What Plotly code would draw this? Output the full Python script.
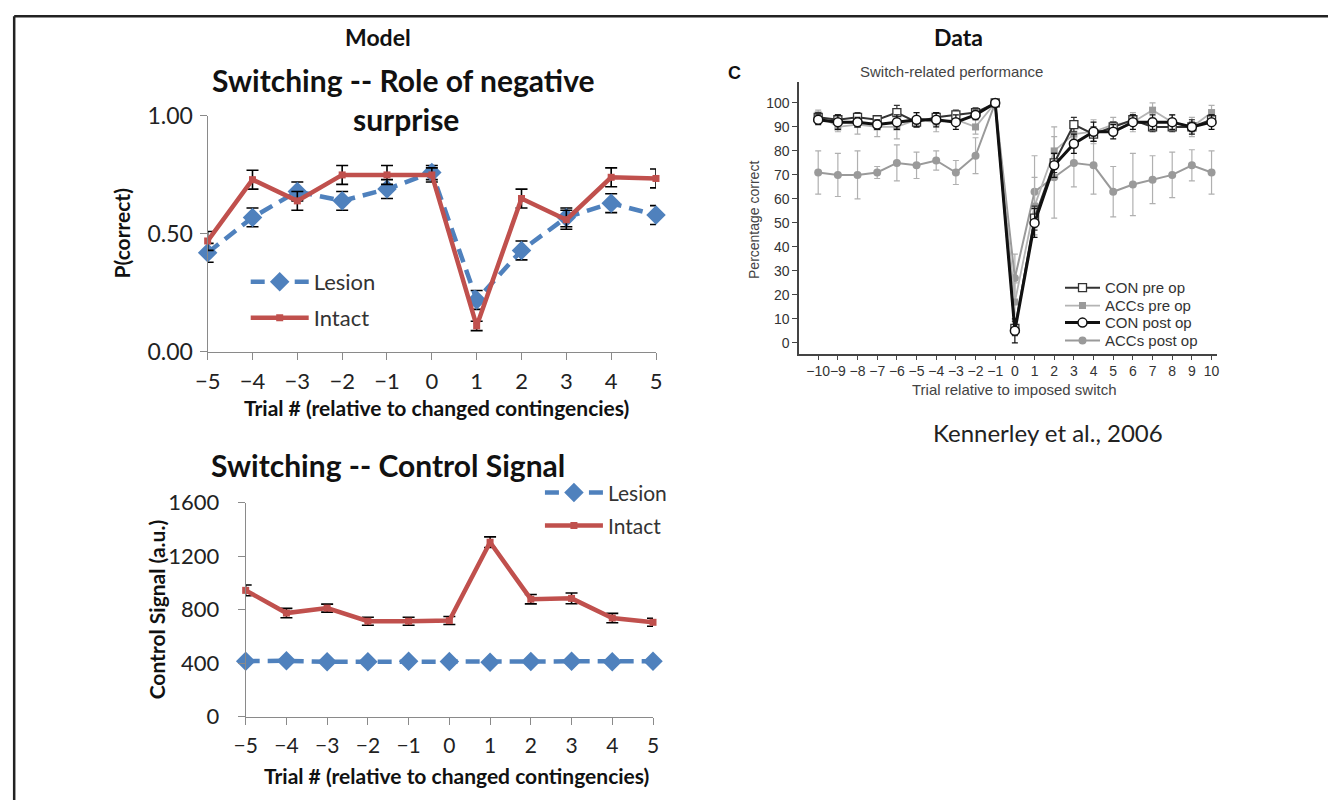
import plotly.graph_objects as go

# The photographed page comes out slightly scaled and offset; positions below are given in
# reference-image pixels and converted back to figure pixels by this fixed mapping.
SX, BX = 0.985, 12.5
SY, BY = 0.966, 15.0
W, H = 1336, 813

# ---------------- data ----------------
trials_model = [-5, -4, -3, -2, -1, 0, 1, 2, 3, 4, 5]
model_tick_text = ["\u22125", "\u22124", "\u22123", "\u22122", "\u22121", "0", "1", "2", "3", "4", "5"]

pc_lesion = [0.42, 0.57, 0.68, 0.64, 0.69, 0.76, 0.22, 0.43, 0.57, 0.63, 0.58]
pc_lesion_err = [0.04, 0.04, 0.04, 0.04, 0.04, 0.03, 0.04, 0.04, 0.04, 0.04, 0.04]
pc_intact = [0.47, 0.73, 0.64, 0.75, 0.75, 0.75, 0.11, 0.65, 0.56, 0.74, 0.735]
pc_intact_err = [0.04, 0.04, 0.04, 0.04, 0.04, 0.03, 0.02, 0.04, 0.04, 0.04, 0.04]

cs_lesion = [415, 418, 410, 410, 415, 412, 408, 412, 415, 410, 415]
cs_lesion_err = [12, 12, 12, 12, 12, 12, 12, 12, 12, 12, 12]
cs_intact = [945, 775, 812, 714, 714, 719, 1305, 879, 885, 738, 706]
cs_intact_err = [40, 35, 30, 30, 30, 30, 40, 35, 40, 35, 30]

trials_data = list(range(-10, 11))
data_tick_text = ["\u221210", "\u22129", "\u22128", "\u22127", "\u22126", "\u22125", "\u22124",
                  "\u22123", "\u22122", "\u22121", "0", "1", "2", "3", "4", "5", "6", "7",
                  "8", "9", "10"]
con_pre = [94, 93, 94, 93, 96, 92, 94, 95, 96, 100, 6, 52, 75, 91, 87, 90, 93, 90, 90, 90, 93]
con_pre_err = [2, 2, 2, 1.5, 3, 2, 2, 2, 2, 0, 3, 5, 4, 3, 3, 2, 2, 2, 2, 2, 2]
accs_pre = [95, 90, 91, 90, 90, 93, 92, 93, 90, 100, 17, 57, 80, 87, 88, 91, 92, 97, 92, 90, 96]
accs_pre_err = [2, 2, 4, 4, 5, 3, 4, 2, 3, 0, 8, 12, 10, 5, 5, 3, 4, 3, 3, 4, 3]
con_post = [93, 92, 92, 91, 92, 93, 93, 92, 95, 100, 5, 50, 74, 83, 88, 88, 92, 92, 92, 90, 92]
con_post_err = [2, 3, 2, 2, 3, 3, 3, 3, 2, 0, 5, 6, 5, 4, 4, 3, 3, 3, 3, 3, 3]
accs_post = [71, 70, 70, 71, 75, 74, 76, 71, 78, 100, 27, 63, 69, 75, 74, 63, 66, 68, 70, 74, 71]
accs_post_err = [9, 9, 10, 2.5, 7.5, 5.5, 4, 5, 7.5, 0, 10, 15, 17, 10, 12, 10.5, 13, 10, 9.5, 6.5, 9]

BLUE = "#4F81BD"
RED = "#C0504D"
EXCEL_FONT = "Lato"
ARIAL = "Liberation Sans"


def fx(x):
    return (x - BX) / SX


def fy(y):
    return (y - BY) / SY


def px(x):
    return fx(x) / W


def py(y):
    return 1 - fy(y) / H


fig = go.Figure()


def legend_box(x_text, y_mid, itemwidth, size, family):
    return dict(x=(fx(x_text) - itemwidth - 10) / W, y=py(y_mid), xanchor="left", yanchor="middle",
                font=dict(family=family, size=size, color="#333"), itemwidth=itemwidth,
                bgcolor="rgba(0,0,0,0)", borderwidth=0)


# ---------- top-left: P(correct) ----------
fig.add_trace(go.Scatter(
    x=trials_model, y=pc_lesion, name="Lesion", mode="lines+markers",
    line=dict(color=BLUE, width=4.5, dash="14px,8px"),
    marker=dict(symbol="diamond", size=15, color=BLUE),
    error_y=dict(type="data", array=pc_lesion_err, color="black", thickness=1.6, width=6),
    xaxis="x", yaxis="y", legend="legend", cliponaxis=False))
fig.add_trace(go.Scatter(
    x=trials_model, y=pc_intact, name="Intact", mode="lines+markers",
    line=dict(color=RED, width=4.5),
    marker=dict(symbol="square", size=7, color=RED),
    error_y=dict(type="data", array=pc_intact_err, color="black", thickness=1.6, width=6),
    xaxis="x", yaxis="y", legend="legend2", cliponaxis=False))

# ---------- bottom-left: control signal ----------
fig.add_trace(go.Scatter(
    x=trials_model, y=cs_lesion, name="Lesion", mode="lines+markers",
    line=dict(color=BLUE, width=4.5, dash="14px,8px"),
    marker=dict(symbol="diamond", size=15, color=BLUE),
    error_y=dict(type="data", array=cs_lesion_err, color="black", thickness=1.6, width=6),
    xaxis="x2", yaxis="y2", legend="legend3", cliponaxis=False))
fig.add_trace(go.Scatter(
    x=trials_model, y=cs_intact, name="Intact", mode="lines+markers",
    line=dict(color=RED, width=4.5),
    marker=dict(symbol="square", size=7, color=RED),
    error_y=dict(type="data", array=cs_intact_err, color="black", thickness=1.6, width=6),
    xaxis="x2", yaxis="y2", legend="legend4", cliponaxis=False))

# ---------- right: Kennerley data ----------
fig.add_trace(go.Scatter(
    x=trials_data, y=accs_post, name="ACCs post op", mode="lines+markers",
    line=dict(color="#9a9a9a", width=2),
    marker=dict(symbol="circle", size=8, color="#9a9a9a"),
    error_y=dict(type="data", array=accs_post_err, color="#b0b0b0", thickness=1.2, width=3),
    xaxis="x3", yaxis="y3", legend="legend8", cliponaxis=False))
fig.add_trace(go.Scatter(
    x=trials_data, y=accs_pre, name="ACCs pre op", mode="lines+markers",
    line=dict(color="#b4b4b4", width=1.8),
    marker=dict(symbol="square", size=7, color="#9a9a9a"),
    error_y=dict(type="data", array=accs_pre_err, color="#b0b0b0", thickness=1.2, width=3),
    xaxis="x3", yaxis="y3", legend="legend6", cliponaxis=False))
fig.add_trace(go.Scatter(
    x=trials_data, y=con_pre, name="CON pre op", mode="lines+markers",
    line=dict(color="#333333", width=2),
    marker=dict(symbol="square", size=8, color="white", line=dict(color="#333333", width=1.3)),
    error_y=dict(type="data", array=con_pre_err, color="#333333", thickness=1.2, width=3),
    xaxis="x3", yaxis="y3", legend="legend5", cliponaxis=False))
fig.add_trace(go.Scatter(
    x=trials_data, y=con_post, name="CON post op", mode="lines+markers",
    line=dict(color="#111111", width=3),
    marker=dict(symbol="circle", size=9, color="white", line=dict(color="#111111", width=1.5)),
    error_y=dict(type="data", array=con_post_err, color="#111111", thickness=1.2, width=3),
    xaxis="x3", yaxis="y3", legend="legend7", cliponaxis=False))

axis_left = dict(showline=True, linecolor="#8a8a8a", linewidth=1.2, ticks="outside",
                 ticklen=7, tickcolor="#8a8a8a", showgrid=False, zeroline=False,
                 tickfont=dict(family=EXCEL_FONT, size=22, color="#222"), fixedrange=True,
                 tickangle=0)

fig.update_layout(
    width=W, height=H,
    margin=dict(l=0, r=0, t=0, b=0),
    paper_bgcolor="white", plot_bgcolor="rgba(0,0,0,0)",
    xaxis=dict(axis_left, domain=[px(207), px(655)], range=[-5, 5], tickvals=trials_model,
               ticktext=model_tick_text, anchor="y", ticklabelstandoff=3),
    yaxis=dict(axis_left, domain=[py(352), py(116)], range=[0, 1], tickvals=[0, 0.5, 1],
               ticktext=["0.00", "0.50", "1.00"], anchor="x", ticklabelstandoff=2,
               tickfont=dict(family=EXCEL_FONT, size=23, color="#222")),
    xaxis2=dict(axis_left, domain=[px(245), px(652)], range=[-5, 5], tickvals=trials_model,
                ticktext=model_tick_text, anchor="y2", ticklabelstandoff=3,
                tickfont=dict(family=EXCEL_FONT, size=21, color="#222")),
    yaxis2=dict(axis_left, domain=[py(717), py(503)], range=[0, 1600],
                tickvals=[0, 400, 800, 1200, 1600], anchor="x2", ticklabelstandoff=14,
                tickfont=dict(family=EXCEL_FONT, size=22, color="#222")),
    xaxis3=dict(showline=True, linecolor="#444", linewidth=1.6, ticks="outside", ticklen=4,
                tickcolor="#444", showgrid=False, zeroline=False, range=[-10.97, 10.3],
                tickvals=trials_data, ticktext=data_tick_text, domain=[px(798), px(1216)],
                tickfont=dict(family=ARIAL, size=14, color="#333"), anchor="y3",
                fixedrange=True, tickangle=0),
    yaxis3=dict(showline=True, linecolor="#444", linewidth=1.6, ticks="outside", ticklen=5,
                tickcolor="#444", showgrid=False, zeroline=False, range=[-4.6, 108.75],
                tickvals=list(range(0, 101, 10)), domain=[py(354), py(82)],
                tickfont=dict(family=ARIAL, size=14, color="#333"), anchor="x3", fixedrange=True),
    legend=legend_box(312, 282, 58, 22, EXCEL_FONT),
    legend2=legend_box(312, 318, 58, 22, EXCEL_FONT),
    legend3=legend_box(606, 493, 58, 21, EXCEL_FONT),
    legend4=legend_box(606, 526, 58, 21, EXCEL_FONT),
    legend5=legend_box(1103, 288, 35, 15, ARIAL),
    legend6=legend_box(1103, 306, 35, 15, ARIAL),
    legend7=legend_box(1103, 323, 35, 15, ARIAL),
    legend8=legend_box(1103, 341, 35, 15, ARIAL),
    showlegend=True,
)

ann = []


def text(x, y, s, size, family=EXCEL_FONT, color="#111", angle=0, bold=False, xanchor="center"):
    ann.append(dict(x=px(x), y=py(y), xref="paper", yref="paper", text=("<b>%s</b>" % s) if bold else s,
                    showarrow=False, xanchor=xanchor, yanchor="middle", textangle=angle,
                    font=dict(family=family, size=size, color=color)))


text(377, 37, "Model", 23, bold=True)
text(957, 37, "Data", 23, bold=True)
text(403, 80, "Switching -- Role of negative", 30, bold=True)
text(405, 119, "surprise", 30, bold=True)
text(121, 234, "P(correct)", 21, bold=True, angle=-90)
text(436, 408, "Trial # (relative to changed contingencies)", 21, bold=True)
text(387, 465, "Switching -- Control Signal", 30, bold=True)
text(156, 610, "Control Signal (a.u.)", 21, bold=True, angle=-90)
text(456, 776, "Trial # (relative to changed contingencies)", 21, bold=True)

text(733, 73, "C", 18, family=ARIAL, bold=True)
text(950, 72, "Switch-related performance", 15, family=ARIAL, color="#444")
text(753, 220, "Percentage correct", 14, family=ARIAL, color="#444", angle=-90)
text(1013, 390, "Trial relative to imposed switch", 15, family=ARIAL, color="#444")
text(1047, 433, "Kennerley et al., 2006", 24, color="#222")

fig.update_layout(annotations=ann)

# frame lines (left and top), drawn as close to the page corner as the figure allows
fig.add_shape(type="line", xref="paper", yref="paper", x0=1.2 / W, y0=1 - 1.2 / H, x1=1.2 / W, y1=0,
              line=dict(color="#222", width=2.5))
fig.add_shape(type="line", xref="paper", yref="paper", x0=1.2 / W, y0=1 - 1.2 / H, x1=1, y1=1 - 1.2 / H,
              line=dict(color="#222", width=2.5))

fig.write_html("out.html")
